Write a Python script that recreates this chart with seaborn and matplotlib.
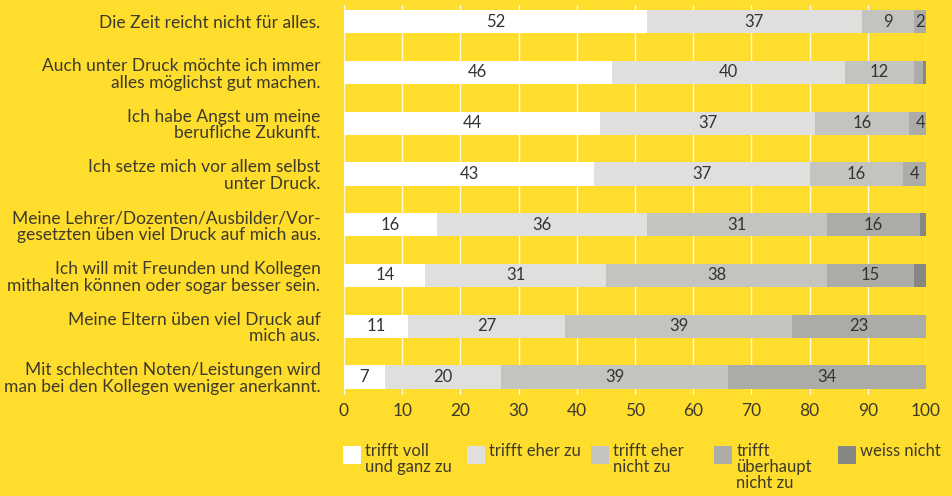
import seaborn as sns
import matplotlib.pyplot as plt
import pandas as pd
from matplotlib.patches import Rectangle

sns.set_theme(style="white")
plt.rcParams['font.family'] = ['Lato', 'DejaVu Sans']

YELLOW = '#FFDD2D'
TEXT = '#3d3a2c'
FS = 12

statements = [
    'Die Zeit reicht nicht für alles.',
    'Auch unter Druck möchte ich immer\nalles möglichst gut machen.',
    'Ich habe Angst um meine\nberufliche Zukunft.',
    'Ich setze mich vor allem selbst\nunter Druck.',
    'Meine Lehrer/Dozenten/Ausbilder/Vor-\ngesetzten üben viel Druck auf mich aus.',
    'Ich will mit Freunden und Kollegen\nmithalten können oder sogar besser sein.',
    'Meine Eltern üben viel Druck auf\nmich aus.',
    'Mit schlechten Noten/Leistungen wird\nman bei den Kollegen weniger anerkannt.',
]
voll = [52, 46, 44, 43, 16, 14, 11, 7]
eher = [37, 40, 37, 37, 36, 31, 27, 20]
eher_nicht = [9, 12, 16, 16, 31, 38, 39, 39]
ueberhaupt = [2, 1.5, 4, 4, 16, 15, 23, 34]
weiss = [0.3, 0.5, 0.5, 0.5, 1.0, 2.0, 0.5, 1.2]

series = ['trifft voll\nund ganz zu', 'trifft eher zu', 'trifft eher\nnicht zu',
          'trifft\nüberhaupt\nnicht zu', 'weiss nicht']
colors = ['#FFFFFF', '#DFDFDD', '#C3C3C0', '#ABABA8', '#868683']

df = pd.DataFrame({'statement': statements, 's0': voll, 's1': eher,
                   's2': eher_nicht, 's3': ueberhaupt, 's4': weiss})
cols = ['s0', 's1', 's2', 's3', 's4']
cum = df[cols].cumsum(axis=1)
for c in cols:
    df['cum_' + c] = cum[c]

fig = plt.figure(figsize=(9.53, 4.96), dpi=100, facecolor=YELLOW)
ax = fig.add_axes([344 / 953, 1 - 395 / 496, 582 / 953, 390 / 496])
ax.set_facecolor(YELLOW)

# stacked bars: draw cumulative totals from the right-most segment backwards
for c, col in reversed(list(zip(cols, colors))):
    sns.barplot(data=df, x='cum_' + c, y='statement', color=col, width=0.46,
                saturation=1, linewidth=0, ax=ax, zorder=3)

# segment labels
for r in range(len(df)):
    start = 0
    for c in cols:
        v = df.loc[r, c]
        if v >= 2 and c != 's4':
            ax.text(start + v / 2, r, f'{v:.0f}', ha='center', va='center',
                    fontsize=FS, color='#333333', zorder=4)
        start += v

ax.set_xlim(0, 100)
ax.set_ylim(len(df) - 1 + 0.355, -0.33)
ax.set_xticks(range(0, 101, 10))
ax.grid(axis='x', color='white', linewidth=1, alpha=0.85, zorder=0)
ax.grid(axis='y', visible=False)
ax.set_axisbelow(True)
for s in ax.spines.values():
    s.set_visible(False)
ax.set_xlabel('')
ax.set_ylabel('')
ax.tick_params(axis='y', length=0, pad=17, labelsize=12.5, labelcolor=TEXT)
ax.tick_params(axis='x', length=0, pad=6, labelsize=12.5, labelcolor=TEXT)
for t in ax.get_yticklabels():
    t.set_linespacing(1.05)

# legend
leg_x = [343, 467, 591, 714, 838]
for x, lab, col in zip(leg_x, series, colors):
    fig.add_artist(Rectangle((x / 953, 1 - 464 / 496), 18 / 953, 18 / 496,
                             transform=fig.transFigure, facecolor=col,
                             edgecolor='none'))
    fig.text((x + 22.5) / 953, 1 - 443 / 496, lab, ha='left', va='top',
             fontsize=FS, color=TEXT, linespacing=1.0)

fig.savefig('out.png', dpi=100, facecolor=YELLOW)
